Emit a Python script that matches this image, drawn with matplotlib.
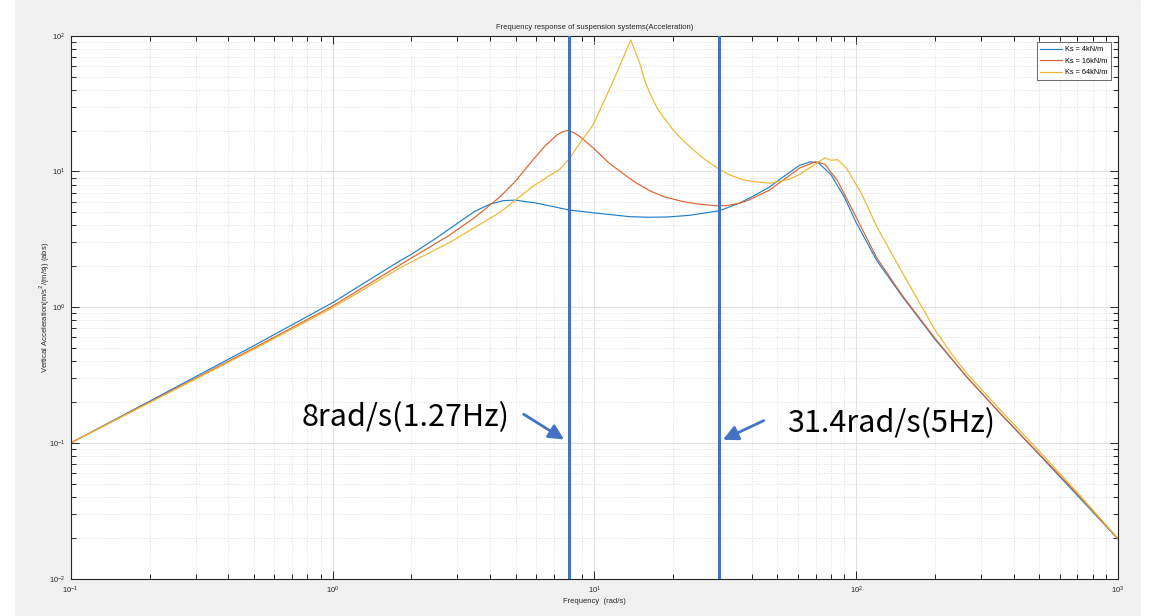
import numpy as np
import matplotlib
matplotlib.use("Agg")
import matplotlib.pyplot as plt
from matplotlib.ticker import LogLocator, NullFormatter

# values (frequency rad/s, |acceleration| )
freq_4 = [0.1, 0.2, 0.5, 1.0, 1.81, 2.0, 2.5, 3.0, 3.5, 4.0, 4.5, 5.0, 6.0, 7.0, 8.0, 10.5, 13.6,
          16.0, 18.9, 23.0, 30.1, 35.9, 40.3, 46.7, 52.5, 60.8, 67.0, 72.0, 80.0, 90.0, 100.0,
          120.0, 150.0, 200.0, 263.0, 350.0, 500.0, 700.0, 1000.0]
acc_4 = [0.1, 0.203, 0.52, 1.08, 2.2, 2.45, 3.25, 4.15, 5.1, 5.75, 6.1, 6.15, 5.85, 5.5, 5.2, 4.9,
         4.65, 4.6, 4.62, 4.75, 5.14, 5.86, 6.56, 7.69, 9.1, 11.1, 11.8, 11.5, 9.5, 6.5, 4.2,
         2.2, 1.2, 0.58, 0.31, 0.17, 0.082, 0.041, 0.0196]

freq_16 = [0.1, 0.5, 1.0, 1.81, 2.8, 3.5, 4.36, 5.0, 5.83, 6.5, 7.2, 7.6, 7.9, 8.3, 8.8, 9.9, 11.4,
           13.2, 14.5, 16.3, 18.5, 21.8, 25.0, 29.0, 32.0, 36.0, 39.2, 46.7, 60.8, 70.0, 76.0,
           85.0, 100.0, 120.0, 150.0, 200.0, 263.0, 350.0, 500.0, 700.0, 1000.0]
acc_16 = [0.1, 0.5, 1.02, 2.05, 3.4, 4.6, 6.5, 8.5, 12.2, 15.5, 18.6, 19.7, 20.0, 19.4, 18.1, 14.9,
          11.5, 9.3, 8.2, 7.2, 6.5, 6.0, 5.75, 5.6, 5.6, 5.85, 6.2, 7.3, 10.6, 11.8, 11.3,
          8.5, 4.6, 2.3, 1.22, 0.59, 0.31, 0.17, 0.083, 0.042, 0.0197]

freq_64 = [0.1, 0.5, 1.0, 1.81, 2.8, 4.36, 5.83, 7.38, 8.0, 8.8, 9.88, 10.6, 11.4, 12.1, 12.85,
           13.76, 14.9, 15.5, 16.3, 17.5, 18.7, 19.95, 21.5, 23.8, 26.5, 29.9, 33.0, 36.9, 40.0,
           46.7, 55.0, 60.8, 70.0, 76.0, 80.0, 85.0, 92.0, 105.0, 120.0, 150.0, 200.0, 230.0,
           263.0, 350.0, 500.0, 700.0, 1000.0]
acc_64 = [0.1, 0.49, 0.99, 1.95, 3.0, 5.0, 7.8, 10.4, 12.3, 16.2, 22.0, 29.5, 40.0, 52.0, 68.0,
          93.0, 63.0, 48.0, 37.6, 28.5, 24.0, 20.3, 17.4, 14.5, 12.2, 10.4, 9.4, 8.7, 8.45,
          8.2, 8.7, 9.5, 11.4, 12.6, 12.1, 12.2, 10.5, 6.8, 3.9, 1.8, 0.68, 0.46,
          0.33, 0.18, 0.087, 0.043, 0.0198]

labels = ["Ks = 4kN/m", "Ks = 16kN/m", "Ks = 64kN/m"]
colors = ["#1f80c8", "#dd6230", "#eeb630"]

# marked frequencies and their notes
mark_freq = [8.0, 30.0]
mark_text = ["8rad/s(1.27Hz)", "31.4rad/s(5Hz)"]

plt.rcParams['font.family'] = ['Liberation Sans', 'DejaVu Sans']

fig = plt.figure(figsize=(11.55, 6.16), dpi=100, facecolor="#f0f0f0")
# white strips at the screenshot edges
fig.patches.append(plt.Rectangle((0, 0), 14 / 1155, 1, transform=fig.transFigure,
                                 color="white", zorder=-10))
fig.patches.append(plt.Rectangle((1141 / 1155, 0), 14 / 1155, 1, transform=fig.transFigure,
                                 color="white", zorder=-10))

ax = fig.add_axes([0.0612, 0.0605, 0.9068, 0.8815])
ax.set_facecolor("white")

for f, a, lab, c in zip([freq_4, freq_16, freq_64], [acc_4, acc_16, acc_64], labels, colors):
    ax.loglog(f, a, color=c, lw=0.85, label=lab)

ax.set_xlim(0.1, 1000)
ax.set_ylim(0.01, 100)

# matlab-like grid and ticks
ax.xaxis.set_major_locator(LogLocator(base=10, numticks=10))
ax.yaxis.set_major_locator(LogLocator(base=10, numticks=10))
ax.xaxis.set_minor_locator(LogLocator(base=10, subs=np.arange(2, 10), numticks=10))
ax.yaxis.set_minor_locator(LogLocator(base=10, subs=np.arange(2, 10), numticks=10))
ax.xaxis.set_minor_formatter(NullFormatter())
ax.yaxis.set_minor_formatter(NullFormatter())
ax.grid(True, which="major", color="#e2e2e2", lw=0.8, ls="-")
ax.grid(True, which="minor", color="#d4d4d4", lw=0.6, ls=(0, (1, 2)))
ax.tick_params(which="both", direction="in", top=True, right=True, colors="#262626",
               labelsize=5.5, width=0.7)
ax.tick_params(which="major", length=6, pad=4)
ax.tick_params(which="minor", length=3.5)
for s in ax.spines.values():
    s.set_color("#262626")
    s.set_linewidth(0.8)

ax.set_title("Frequency response of suspension systems(Acceleration)", fontsize=5.5,
             color="#262626", pad=5)
ax.set_xlabel("Frequency  (rad/s)", fontsize=5.5, color="#262626", labelpad=2)
ax.set_ylabel(r"Vertical Acceleration(m/s$^2$/(m/s)) (abs)", fontsize=5.5, color="#262626",
              labelpad=-2.5)

leg = ax.legend(loc="upper right", fontsize=5.3, frameon=True, fancybox=False,
                edgecolor="#262626", handlelength=3.0, handletextpad=0.4,
                borderaxespad=0.9, labelspacing=0.6, borderpad=0.5)
leg.get_frame().set_linewidth(0.6)

# the two marked frequencies
mark_color = "#4472C4"
for fm in mark_freq:
    ax.axvline(fm, color=mark_color, lw=2.2, zorder=5)

ax.annotate("", xy=(7.82, 0.1035), xytext=(5.26, 0.167),
            arrowprops=dict(arrowstyle="-|>,head_length=0.9,head_width=0.45",
                            color=mark_color, lw=2))
ax.annotate("", xy=(30.3, 0.1035), xytext=(45.3, 0.149),
            arrowprops=dict(arrowstyle="-|>,head_length=0.9,head_width=0.45",
                            color=mark_color, lw=2))
ax.text(0.764, 0.153, mark_text[0], fontsize=22, va="center", ha="left",
        family=["Noto Sans CJK TC", "DejaVu Sans"], color="black")
ax.text(54.5, 0.139, mark_text[1], fontsize=22, va="center", ha="left",
        family=["Noto Sans CJK TC", "DejaVu Sans"], color="black")

fig.savefig("out.png", dpi=100, facecolor=fig.get_facecolor())
